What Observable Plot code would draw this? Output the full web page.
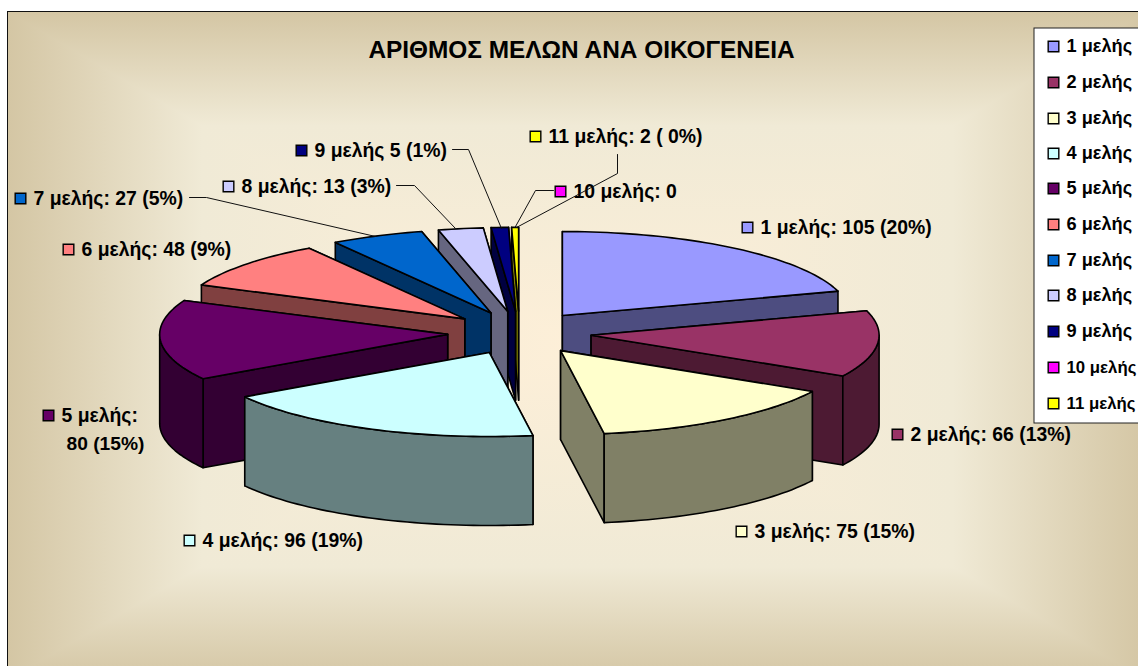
<!DOCTYPE html>
<html>
<head>
<meta charset="utf-8">
<script src="https://cdn.jsdelivr.net/npm/d3@7"></script>
<script src="https://cdn.jsdelivr.net/npm/@observablehq/plot@0.6"></script>
<style>
html,body{margin:0;padding:0;background:#fff;overflow:hidden}
#page{position:relative;width:1138px;height:666px;overflow:hidden}
#frame{position:absolute;left:7px;top:11px;width:1140px;height:670px;border:1px solid #111;box-sizing:border-box;overflow:hidden;
  background:linear-gradient(to right,#d4c6a4 0,#f0ead6 17%,#fdefd8 50%,#f0ead6 83%,#d4c6a4 100%)}
.tri{position:absolute;inset:0}
#page svg{position:absolute;left:0;top:0}
</style>
</head>
<body>
<div id="page">
  <div id="frame">
    <div class="tri" style="clip-path:polygon(0 0,100% 0,50% 50%);background:linear-gradient(to bottom,#d4c6a4 0,#f0ead6 17%,#fdefd8 50%)"></div>
    <div class="tri" style="clip-path:polygon(0 100%,100% 100%,50% 50%);background:linear-gradient(to top,#d4c6a4 0,#f0ead6 17%,#fdefd8 50%)"></div>
  </div>
</div>
<script>
// ---- data ----
const title = "ΑΡΙΘΜΟΣ ΜΕΛΩΝ ΑΝΑ ΟΙΚΟΓΕΝΕΙΑ";
const categories = ["1 μελής","2 μελής","3 μελής","4 μελής","5 μελής","6 μελής","7 μελής","8 μελής","9 μελής","10 μελής","11 μελής"];
const values = [105,66,75,96,80,48,27,13,5,0,2];
const dataLabels = ["1 μελής: 105 (20%)","2 μελής: 66 (13%)","3 μελής: 75 (15%)","4 μελής: 96 (19%)","5 μελής:","6 μελής: 48 (9%)","7 μελής: 27 (5%)","8 μελής: 13 (3%)","9 μελής 5 (1%)","10 μελής: 0","11 μελής: 2 ( 0%)"];
const dataLabelSecondLine = "80 (15%)";
const colors = ["#9999ff","#993366","#ffffcc","#ccffff","#660066","#ff8080","#0066cc","#ccccff","#000080","#ff00ff","#ffff00"];
const sideColors = ["#4d4d80","#4d1a33","#808066","#668080","#330033","#804040","#003366","#666680","#000040","#800080","#808000"];

// ---- layout (pixels of the 1138x666 picture) ----
const W = 1138, H = 666;
const pie = {cx:519, cy:332.4, rx:288, ry:84, explode:72, explodeY:21.6, depth:89};
const drawOrder = [10,9,8,7,6,5,4,0,1,2,3];
const labelPos = [[747,227],[897,434],[741,531],[189,540],[48,415],[68,249],[20,198],[228,186],[301,150],[560,191],[535,136]];
const legendY = [46,82,118,153,188,224,260,295,331,367,403];
const leaders = [
  [[189,197],[206,197],[375,236]],
  [[396,185],[414,185],[455,228]],
  [[452,149],[468,149],[501,228]],
  [[553,190],[535,190],[514.5,227]],
  [[617,154],[617,173],[516,227]]
];

// ---- geometry from the values ----
const total = d3.sum(values);
const rad = d => d * Math.PI / 180;
let cum = 0;
const slices = values.map((v,i) => {
  const a0 = cum / total * 360; cum += v; const a1 = cum / total * 360;
  const mid = rad((a0 + a1) / 2);
  return {i, v, a0, a1,
    ax: pie.cx + pie.explode * Math.sin(mid),
    ay: pie.cy - pie.explodeY * Math.cos(mid)};
});
const rim = (s,a,dz=0) => ({x: s.ax + pie.rx*Math.sin(rad(a)), y: s.ay - pie.ry*Math.cos(rad(a)) + dz});
const arcAngles = (a0,a1) => { const n = Math.max(1,Math.ceil((a1-a0)/1.5)); return d3.range(n+1).map(k => a0 + (a1-a0)*k/n); };
const close = pts => [...pts, pts[0]];

function slicePolys(s){
  const polys = [];
  const top = {x:s.ax,y:s.ay}, bot = {x:s.ax,y:s.ay+pie.depth};
  const face = a => close([top, rim(s,a), rim(s,a,pie.depth), bot]);
  const faces = [s.a0,s.a1].map(a => ({pts:face(a), my:(s.ay+rim(s,a).y)/2}));
  faces.sort((p,q)=>p.my-q.my);
  faces.forEach(f => polys.push({pts:f.pts, fill:sideColors[s.i]}));
  const w0 = Math.max(s.a0,90), w1 = Math.min(s.a1,270);
  if (w1 > w0) {
    const as = arcAngles(w0,w1);
    polys.push({pts:close([...as.map(a=>rim(s,a)), ...as.slice().reverse().map(a=>rim(s,a,pie.depth))]), fill:sideColors[s.i]});
  }
  polys.push({pts:close([top, ...arcAngles(s.a0,s.a1).map(a=>rim(s,a))]), fill:colors[s.i]});
  return polys;
}
const polys = drawOrder.filter(i=>values[i]>0).flatMap(i=>slicePolys(slices[i]));

const font = "'Liberation Sans', Arial, sans-serif";
const labelRows = categories.map((c,i)=>({i,text:dataLabels[i],x:labelPos[i][0],y:labelPos[i][1],fill:colors[i]}));
const legendRows = categories.map((c,i)=>({i,text:c,y:legendY[i],fill:colors[i],size:i>=9?17:18.2}));

const chart = Plot.plot({
  width:W, height:H, margin:0,
  x:{domain:[0,W],range:[0,W],axis:null},
  y:{domain:[0,H],range:[0,H],axis:null},
  color:{type:"identity"},
  style:{background:"transparent",fontFamily:font},
  marks:[
    ...polys.map(p=>Plot.line(p.pts,{x:"x",y:"y",fill:p.fill,stroke:"#000",strokeWidth:1.6,strokeLinejoin:"round"})),
    Plot.text([title],{x:()=>581,y:()=>50,text:d=>d,fontSize:24.4,fontWeight:"bold",fill:"#000",fontFamily:font}),
    Plot.dot(labelRows,{x:"x",y:"y",fill:"fill",stroke:"#000",strokeWidth:1.4,symbol:"square",r:6}),
    Plot.text(labelRows,{x:d=>d.x+13,y:"y",text:"text",textAnchor:"start",fontSize:19.4,fontWeight:"bold",fill:"#000",fontFamily:font}),
    Plot.text([dataLabelSecondLine],{x:()=>66,y:()=>443,text:d=>d,textAnchor:"start",fontSize:19.2,fontWeight:"bold",fill:"#000",fontFamily:font}),
    ...leaders.map(l=>Plot.line(l,{x:d=>d[0],y:d=>d[1],stroke:"#111",strokeWidth:1})),
    Plot.rect([0],{x1:()=>1034,x2:()=>1150,y1:()=>28,y2:()=>423,fill:"#fff",stroke:"#222",strokeWidth:1}),
    Plot.dot(legendRows,{x:()=>1053,y:"y",fill:"fill",stroke:"#000",strokeWidth:1.4,symbol:"square",r:6}),
    Plot.text(legendRows.filter(d=>d.i<9),{x:()=>1066,y:"y",text:"text",textAnchor:"start",fontSize:18.2,fontWeight:"bold",fill:"#000",fontFamily:font}),
    Plot.text(legendRows.filter(d=>d.i>=9),{x:()=>1066,y:"y",text:"text",textAnchor:"start",fontSize:16.8,fontWeight:"bold",fill:"#000",fontFamily:font})
  ]
});
document.getElementById("page").appendChild(chart);
</script>
</body>
</html>
